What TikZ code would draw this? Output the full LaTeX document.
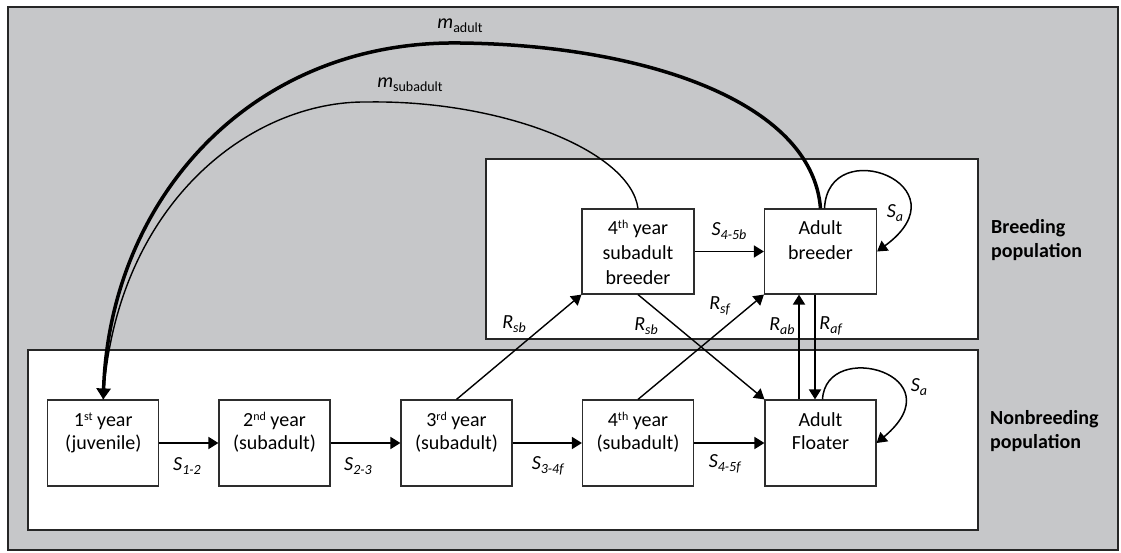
\documentclass[tikz,border=0pt]{standalone}
\usepackage{fontspec}
\setmainfont{Carlito}
\usetikzlibrary{arrows.meta}
\definecolor{bg}{RGB}{198,199,201}
\definecolor{edge}{RGB}{45,45,45}
\newcommand\supx[1]{\raisebox{0.6ex}{\fontsize{12}{12}\selectfont #1}}
\newcommand\sublab[2]{\textit{#1}\raisebox{-0.45ex}{\fontsize{14}{14}\selectfont\textit{#2}}}
\newcommand\msub[1]{\textit{m}\raisebox{-0.45ex}{\fontsize{14}{14}\selectfont #1}}
\newcommand\lowtext[1]{\parbox[c][86pt][t]{111pt}{\fontsize{20}{23}\selectfont\centering\rule{0pt}{26.5pt}#1}}
\newcommand\uptext[1]{\parbox[c][85pt][t]{112pt}{\fontsize{20}{25}\selectfont\centering\rule{0pt}{25.5pt}#1}}
\begin{document}
\begin{tikzpicture}[x=1pt,y=-1pt,
  stagebox/.style={draw=edge,line width=1.2pt,fill=white,inner sep=0pt},
  arr/.style={line width=1.8pt,-{Triangle[length=10pt,width=12pt]}},
  diag/.style={line width=1.4pt,-{Triangle[length=10pt,width=12pt]}},
  lab/.style={inner sep=0pt,font=\fontsize{20}{24}\selectfont},
  grp/.style={inner sep=0pt,align=left,anchor=west,font=\fontsize{20}{24}\selectfont\bfseries}]
\useasboundingbox (0,0) rectangle (1121,553);
% outer grey frame
\draw[fill=bg,draw=black!85,line width=2pt] (8,7) rectangle (1118,550);
% population containers
\draw[fill=white,draw=black!85,line width=1.5pt] (486,159) rectangle (978,339);
\draw[fill=white,draw=black!85,line width=1.5pt] (28,350) rectangle (978,530);
% stage boxes
\node[stagebox] (y1) at (103.25,443) {\lowtext{1\supx{st} year\\(juvenile)}};
\node[stagebox] (y2) at (274.5,443) {\lowtext{2\supx{nd} year\\(subadult)}};
\node[stagebox] (y3) at (456.5,443) {\lowtext{3\supx{rd} year\\(subadult)}};
\node[stagebox] (y4) at (638,443) {\lowtext{4\supx{th} year\\(subadult)}};
\node[stagebox] (fl) at (820.5,443) {\lowtext{Adult\\Floater}};
\node[stagebox] (sb) at (638,251.5) {\uptext{4\supx{th} year\\subadult\\breeder}};
\node[stagebox] (ab) at (820.5,251.5) {\uptext{Adult\\breeder}};
% migration curves
\draw[line width=1.4pt] (sb.north) .. controls (630,150) and (500,100) .. (368,102)
   .. controls (250,100) and (115,205) .. (y1.north);
\draw[line width=3.5pt,-{Triangle[length=11pt,width=14pt]}] (ab.north) .. controls (812,100) and (640,45) .. (460,43)
   .. controls (250,40) and (110,200) .. (y1.north);
% survival arrows
\draw[arr] (y1.east) -- (y2.west);
\draw[arr] (y2.east) -- (y3.west);
\draw[arr] (y3.east) -- (y4.west);
\draw[arr] (y4.east) -- (fl.west);
\draw[arr] (sb.east) -- (ab.west);
% recruitment arrows
\draw[diag] (y3.north) -- (sb.south west);
\draw[diag] (sb.south) -- (fl.north west);
\draw[diag] (y4.north) -- (ab.south west);
\draw[arr] ([xshift=-21.5pt]fl.north) -- ([xshift=-21.5pt]ab.south);
\draw[arr] ([xshift=-5.5pt]ab.south) -- ([xshift=-5.5pt]fl.north);
% self loops
\draw[line width=1.5pt,-{Triangle[length=10pt,width=12pt]}] ([xshift=4pt]ab.north) .. controls (828,132) and (968,185) .. (ab.east);
\draw[line width=1.5pt,-{Triangle[length=10pt,width=12pt]}] ([xshift=2pt]fl.north) .. controls (826,338) and (958,375) .. (fl.east);
% labels
\node[lab] (l12) at (187,466) {\sublab{S}{1-2}};
\node[lab] (l23) at (358,466) {\sublab{S}{2-3}};
\node[lab] (l34) at (548,466) {\sublab{S}{3-4f}};
\node[lab] (l45f) at (725,464) {\sublab{S}{4-5f}};
\node[lab] (l45b) at (729,231) {\sublab{S}{4-5b}};
\node[lab] (lsab) at (895,213) {\sublab{S}{a}};
\node[lab] (lsaf) at (919,387) {\sublab{S}{a}};
\node[lab] (lrsb1) at (514,324) {\sublab{R}{sb}};
\node[lab] (lrsb2) at (646,326) {\sublab{R}{sb}};
\node[lab] (lrsf) at (720,306) {\sublab{R}{sf}};
\node[lab] (lrab) at (782,326) {\sublab{R}{ab}};
\node[lab] (lraf) at (831,326) {\sublab{R}{af}};
\node[lab] (lma) at (460,26) {\msub{adult}};
\node[lab] (lms) at (410,85) {\msub{subadult}};
\node[grp] (gb) at (991,240) {Breeding\\population};
\node[grp] (gn) at (990,431) {Nonbreeding\\population};
\end{tikzpicture}
\end{document}
